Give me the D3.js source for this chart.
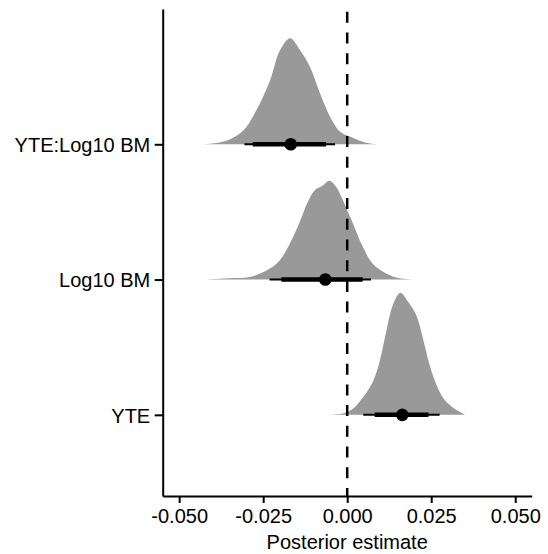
<!DOCTYPE html>
<html lang="en">
<head>
<meta charset="UTF-8">
<title>Posterior estimate</title>
<style>
body{margin:0;background:#fff;}
svg{display:block;font-family:"Liberation Sans",Arial,sans-serif;}
</style>
</head>
<body>
<script src="https://d3js.org/d3.v7.min.js"></script>
<script>
// terms, bottom to top
var terms = ["YTE", "Log10 BM", "YTE:Log10 BM"];

// slab shapes: estimate grid and relative density
var yteX   = [-0.008,-0.0013,0.0017,0.0046,0.0076,0.0096,0.0116,0.0136,0.0158,0.018,0.0205,0.0225,0.0245,0.0265,0.0285,0.0314,0.0344,0.035];
var yteD   = [0,0.01,0.05,0.14,0.27,0.43,0.68,0.90,1.00,0.93,0.82,0.63,0.41,0.25,0.14,0.06,0.01,0];
var bmX    = [-0.042,-0.035,-0.029,-0.023,-0.020,-0.017,-0.014,-0.012,-0.0097,-0.0073,-0.0053,-0.0033,-0.0013,0.0017,0.0046,0.0076,0.0116,0.0156,0.0195];
var bmD    = [0,0.01,0.02,0.09,0.16,0.30,0.48,0.62,0.73,0.77,0.81,0.76,0.65,0.46,0.27,0.13,0.05,0.01,0];
var interX = [-0.043,-0.039,-0.035,-0.031,-0.027,-0.023,-0.020,-0.017,-0.014,-0.011,-0.008,-0.005,-0.002,0.002,0.006,0.009];
var interD = [0,0.01,0.04,0.11,0.28,0.52,0.77,0.87,0.77,0.63,0.41,0.22,0.10,0.05,0.01,0];

// point + intervals (median, 66%, 95%)
var medians = [0.0164, -0.0065, -0.0168];
var lo66 = [0.0082, -0.0196, -0.0281];
var hi66 = [0.0242, 0.0046, -0.0063];
var lo95 = [0.0048, -0.0231, -0.0306];
var hi95 = [0.0275, 0.0071, -0.0036];

var xTicks = [-0.05, -0.025, 0, 0.025, 0.05];

var width = 548, height = 554;
var pLeft = 162.7, pRight = 531.7, pTop = 9, pBottom = 496;

var svg = d3.select("body").append("svg")
	.attr("width", width)
	.attr("height", height);

var x = d3.scaleLinear().domain([-0.0549, 0.0549]).range([pLeft, pRight]);
var y = d3.scaleLinear().domain([0.4, 4.0]).range([pBottom, pTop]);
var thick = d3.scaleLinear().domain([0, 1]).range([0, 122]);

var slabs = [
	{xs: yteX, ds: yteD},
	{xs: bmX, ds: bmD},
	{xs: interX, ds: interD}
];

//slabs
slabs.forEach(function(s, i){
	var pts = s.xs.map(function(v, j){ return [v, s.ds[j]]; });
	var base = y(i + 1);
	var area = d3.area()
		.x(function(d){ return x(d[0]); })
		.y0(base)
		.y1(function(d){ return base - thick(d[1]); })
		.curve(d3.curveCatmullRom.alpha(0.5));
	svg.append("path")
		.attr("d", area(pts))
		.attr("fill", "#999999");
});

//axes
var xAxis = svg.append("g")
	.attr("transform", "translate(0," + pBottom + ")")
	.call(d3.axisBottom(x).tickValues(xTicks).tickFormat(d3.format(".3f")).tickSize(7).tickSizeOuter(0).tickPadding(6));
var yAxis = svg.append("g")
	.attr("transform", "translate(" + pLeft + ",0)")
	.call(d3.axisLeft(y).tickValues([1, 2, 3]).tickFormat(function(d){ return terms[d - 1]; }).tickSize(8).tickSizeOuter(0).tickPadding(4.5));

[xAxis, yAxis].forEach(function(a){
	a.select(".domain").attr("stroke", "#000").attr("stroke-width", 2);
	a.selectAll(".tick line").attr("stroke", "#000").attr("stroke-width", 2);
	a.selectAll(".tick text").attr("fill", "#000").style("font-size", "20px").style("font-family", "Liberation Sans, Arial, sans-serif");
});
yAxis.selectAll(".tick text").attr("dy", "0.36em");
xAxis.selectAll(".tick text").text(function(d){ return d3.format(".3f")(d).replace("\u2212", "-"); });

// x = 0 reference
svg.append("line")
	.attr("x1", x(0)).attr("x2", x(0))
	.attr("y1", pTop).attr("y2", pBottom)
	.attr("stroke", "#000")
	.attr("stroke-width", 2.5)
	.attr("stroke-dasharray", "11,9.7")
	.attr("stroke-dashoffset", 17.9);

//intervals and medians
for(var i = 0; i < terms.length; i++){
	var yy = y(i + 1);
	svg.append("line")
		.attr("x1", x(lo95[i])).attr("x2", x(hi95[i]))
		.attr("y1", yy).attr("y2", yy)
		.attr("stroke", "#000").attr("stroke-width", 2);
	svg.append("line")
		.attr("x1", x(lo66[i])).attr("x2", x(hi66[i]))
		.attr("y1", yy).attr("y2", yy)
		.attr("stroke", "#000").attr("stroke-width", 4.5);
	svg.append("circle")
		.attr("cx", x(medians[i])).attr("cy", yy)
		.attr("r", 6.3)
		.attr("fill", "#000");
}

svg.append("text")
	.attr("x", (pLeft + pRight) / 2)
	.attr("y", 549.3)
	.attr("text-anchor", "middle")
	.style("font-size", "20px")
	.attr("fill", "#000")
	.text("Posterior estimate");
</script>
</body>
</html>
